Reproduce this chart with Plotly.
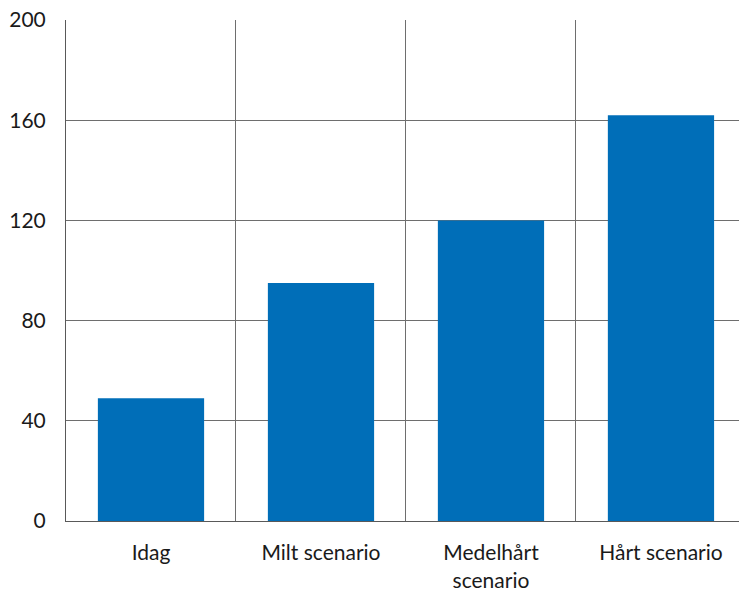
import plotly.graph_objects as go

categories = ["Idag", "Milt scenario", "Medelhårt<br>scenario", "Hårt scenario"]
values = [49, 95, 120, 162]
y_ticks = [0, 40, 80, 120, 160, 200]

font = dict(family="Lato, Carlito, Open Sans, sans-serif", size=21, color="#1a1a1a")

fig = go.Figure(
    go.Bar(
        x=categories,
        y=values,
        width=0.625,
        marker=dict(color="#006EB8", line=dict(width=0)),
    )
)

fig.update_layout(
    width=739,
    height=590,
    margin=dict(l=66, r=0, t=20, b=69),
    paper_bgcolor="white",
    plot_bgcolor="white",
    showlegend=False,
    font=font,
)

fig.update_xaxes(
    type="category",
    range=[-0.5, 3.459],
    tickson="boundaries",
    showgrid=True,
    gridcolor="#6e6e6e",
    gridwidth=1,
    showline=True,
    linecolor="#595959",
    linewidth=1,
    ticks="",
    ticklabelstandoff=13,
    tickfont=font,
    automargin=False,
)

fig.update_yaxes(
    range=[0, 200],
    tickvals=y_ticks,
    showgrid=True,
    gridcolor="#6e6e6e",
    gridwidth=1,
    showline=True,
    linecolor="#595959",
    linewidth=1,
    ticks="",
    ticklabelstandoff=15,
    zeroline=False,
    tickfont=font,
    automargin=False,
)

fig.write_html("out.html")
